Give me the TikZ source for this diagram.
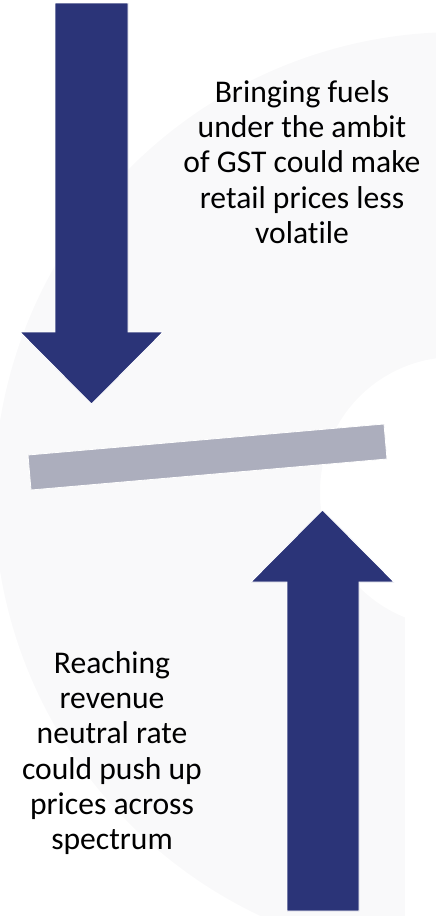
\documentclass[tikz,border=0pt]{standalone}
\usepackage{fontspec}
\setmainfont{Carlito}[Ligatures=NoCommon]
\usetikzlibrary{positioning}
\definecolor{arrowblue}{RGB}{43,52,120}
\definecolor{beamgray}{RGB}{172,174,189}
\definecolor{ringgray}{RGB}{249,249,250}
\tikzset{
  bigarrow/.style={fill=arrowblue,draw=white,line width=0.8pt},
  beam/.style={fill=beamgray,draw=white,line width=0.8pt},
  ring/.style={fill=ringgray,even odd rule},
  note/.style={font=\fontsize{31.6}{35.2}\selectfont,align=center,inner sep=0pt},
}

\begin{document}
\begin{tikzpicture}[x=1pt,y=-1pt]
  \useasboundingbox (0,0) rectangle (436,916);
  \clip (0,0) rectangle (436,916);
  % faint ring behind everything
  \fill[ring] (458,496) circle[radius=464pt] (455,492) circle[radius=135pt];
  \fill[white] (405,617) rectangle (437,917);
  % arrow pushing down
  \draw[bigarrow] (55,3) -- (128,3) -- (128,332) -- (163,332) -- (91.5,404)
    -- (20,332) -- (55,332) -- cycle;
  % tilted beam
  \draw[beam] (28,455) -- (384,424) -- (387,459) -- (31,490) -- cycle;
  % arrow pushing up
  \draw[bigarrow] (287,911) -- (359,911) -- (359,582) -- (394,582) -- (322.5,510)
    -- (251,582) -- (287,582) -- cycle;
  \node[note] (down) at (302,162) {Bringing fuels\\under the ambit\\of GST could make\\retail prices less\\volatile};
  \node[note] (up) at (112,753) {Reaching\\revenue\\neutral rate\\could push up\\prices across\\spectrum};
\end{tikzpicture}
\end{document}
